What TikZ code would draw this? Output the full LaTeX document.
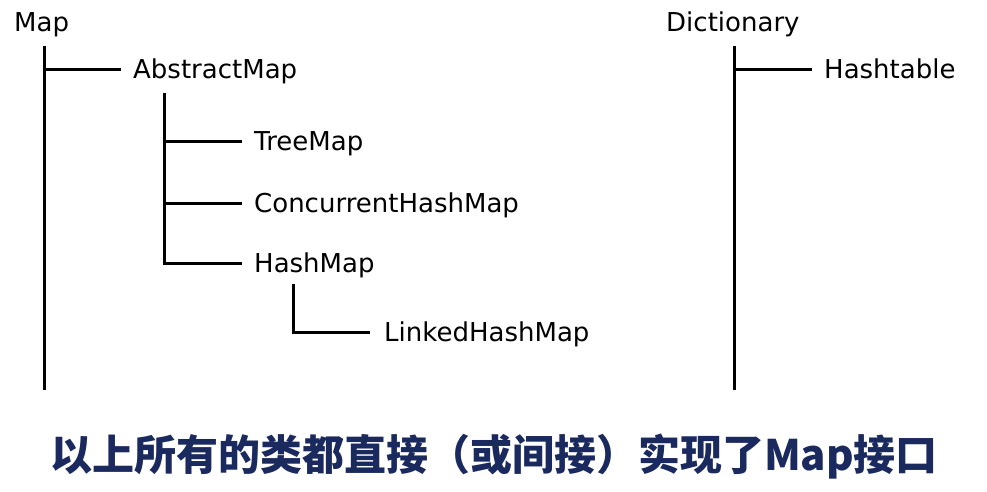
\documentclass[tikz,border=0pt]{standalone}
\usepackage{fontspec}
\setmainfont{DejaVu Sans}
\newfontfamily\cjk{Noto Sans CJK SC}
\definecolor{navy}{HTML}{1B2A5E}
\begin{document}
\begin{tikzpicture}[x=1pt,y=-1pt,
  cls/.style={anchor=west,inner sep=0pt,text height=22pt,text depth=4pt,font=\fontsize{26}{30}\selectfont},
  branch/.style={line width=3pt,black}]
\useasboundingbox (0,0) rectangle (987,492);
% nodes
\node[cls] (map) at (14,23) {Map};
\node[cls] (abs) at (133,70) {AbstractMap};
\node[cls] (tree) at (254,141) {TreeMap};
\node[cls] (chm) at (254,203) {ConcurrentHashMap};
\node[cls] (hm) at (254,263) {HashMap};
\node[cls] (lhm) at (384,332) {LinkedHashMap};
\node[cls] (dict) at (666,23) {Dictionary};
\node[cls] (ht) at (824,70) {Hashtable};
\node[font=\cjk\bfseries\fontsize{42}{46}\selectfont,text=navy,inner sep=0pt] (note) at (494,457) {以上所有的类都直接（或间接）实现了Map接口};
% trunk coordinates
\coordinate (mapTop) at (44.5,46);
\coordinate (mapBot) at (44.5,390);
\coordinate (absTop) at (164,93);
\coordinate (hmTop) at (293,284);
\coordinate (dictTop) at (734,46);
\coordinate (dictBot) at (734,390);
% connectors
\draw[branch] (mapTop) -- (mapBot);
\draw[branch] (mapTop |- abs.west) -- ([xshift=-12pt]abs.west);
\draw[branch] (absTop |- tree.west) -- ([xshift=-12pt]tree.west);
\draw[branch] (absTop |- chm.west) -- ([xshift=-12pt]chm.west);
\draw[branch] (absTop) -- (absTop |- hm.west) -- ([xshift=-12pt]hm.west);
\draw[branch] (hmTop) -- (hmTop |- lhm.west) -- ([xshift=-14pt]lhm.west);
\draw[branch] (dictTop) -- (dictBot);
\draw[branch] (dictTop |- ht.west) -- ([xshift=-12pt]ht.west);
\end{tikzpicture}
\end{document}
